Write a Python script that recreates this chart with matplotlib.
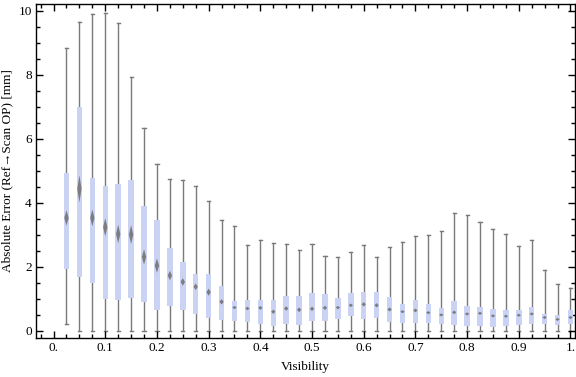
import numpy as np
import matplotlib
matplotlib.use('Agg')
import matplotlib.pyplot as plt
from matplotlib.ticker import MultipleLocator, FixedLocator

# visibility bins (box centres)
vis = [0.025, 0.05, 0.075, 0.1, 0.125, 0.15, 0.175, 0.2, 0.225, 0.25,
       0.275, 0.3, 0.325, 0.35, 0.375, 0.4, 0.425, 0.45, 0.475, 0.5,
       0.525, 0.55, 0.575, 0.6, 0.625, 0.65, 0.675, 0.7, 0.725, 0.75,
       0.775, 0.8, 0.825, 0.85, 0.875, 0.9, 0.925, 0.95, 0.975, 1.0]

w_low = [0.22] + [0.0] * 39
q1 = [1.93, 1.68, 1.48, 0.98, 0.96, 1.01, 0.88, 0.65, 0.76, 0.64,
      0.51, 0.38, 0.32, 0.29, 0.26, 0.20, 0.13, 0.20, 0.17, 0.29,
      0.29, 0.36, 0.45, 0.35, 0.38, 0.26, 0.23, 0.23, 0.23, 0.20,
      0.17, 0.13, 0.13, 0.10, 0.13, 0.17, 0.20, 0.20, 0.17, 0.20]
med = [3.52, 4.43, 3.52, 3.23, 3.02, 3.00, 2.30, 2.03, 1.72, 1.52,
       1.37, 1.20, 0.90, 0.72, 0.69, 0.71, 0.59, 0.69, 0.65, 0.68,
       0.71, 0.72, 0.79, 0.82, 0.79, 0.66, 0.59, 0.63, 0.56, 0.49,
       0.57, 0.52, 0.54, 0.46, 0.45, 0.48, 0.52, 0.41, 0.35, 0.41]
q3 = [4.93, 7.00, 4.77, 4.53, 4.59, 4.71, 3.90, 3.44, 2.59, 2.13,
      1.78, 1.78, 1.38, 0.94, 0.97, 0.97, 0.97, 1.09, 1.09, 1.16,
      1.13, 1.03, 1.16, 1.22, 1.22, 1.06, 0.84, 0.97, 0.84, 0.72,
      0.91, 0.78, 0.75, 0.68, 0.63, 0.63, 0.75, 0.53, 0.50, 0.63]
w_high = [8.82, 9.65, 9.90, 9.93, 9.61, 7.93, 6.34, 5.21, 4.74, 4.71,
          4.52, 4.05, 3.46, 3.27, 2.66, 2.83, 2.74, 2.71, 2.52, 2.71,
          2.34, 2.30, 2.46, 2.68, 2.30, 2.62, 2.77, 2.94, 2.99, 3.11,
          3.68, 3.61, 3.40, 3.18, 3.02, 2.65, 2.83, 1.88, 1.46, 1.33]

serif = ['Liberation Serif', 'DejaVu Serif']
plt.rcParams['font.family'] = serif

fig = plt.figure(figsize=(5.76, 3.77), dpi=100)
ax = fig.add_axes([0.0625, 0.104, 0.936, 0.885])

bw = 0.0105   # box width
cw = 0.003    # cap half width
for x, lo, a, m, b, hi in zip(vis, w_low, q1, med, q3, w_high):
    ax.plot([x, x], [lo, hi], color='#7a7a7a', lw=1.0, zorder=1)
    ax.plot([x - cw, x + cw], [hi, hi], color='#7a7a7a', lw=1.0, zorder=1)
    ax.plot([x - cw, x + cw], [lo, lo], color='#7a7a7a', lw=1.0, zorder=1)
    ax.add_patch(plt.Rectangle((x - bw / 2, a), bw, b - a,
                               facecolor='#cbd3f4', edgecolor='none', zorder=2))
    # median marker (notch-like diamond)
    dh = max(0.08 * (b - a), 0.05)
    ax.fill([x - 0.0042, x, x + 0.0042, x], [m, m + dh, m, m - dh],
            color='#6e6e6e', alpha=0.85, lw=0, zorder=3)

ax.set_xlim(-0.034, 1.009)
ax.set_ylim(-0.225, 10.2)

ax.xaxis.set_major_locator(FixedLocator(np.arange(0, 1.01, 0.1)))
ax.set_xticklabels(['0.', '0.1', '0.2', '0.3', '0.4', '0.5', '0.6', '0.7',
                    '0.8', '0.9', '1.'])
ax.xaxis.set_minor_locator(MultipleLocator(0.025))
ax.yaxis.set_major_locator(MultipleLocator(2))
ax.yaxis.set_minor_locator(MultipleLocator(0.5))

ax.tick_params(which='both', direction='in', top=True, right=True,
               labelsize=9.5, width=1.0, pad=3)
ax.tick_params(which='major', length=5)
ax.tick_params(which='minor', length=3)
for s in ax.spines.values():
    s.set_linewidth(1.0)

ax.set_xlabel('Visibility', fontsize=9.5, labelpad=5)
ax.set_ylabel('Absolute Error (Ref\u2192Scan OP) [mm]', fontsize=9.5,
              labelpad=4, family=serif)

fig.savefig('out.png', dpi=100)
